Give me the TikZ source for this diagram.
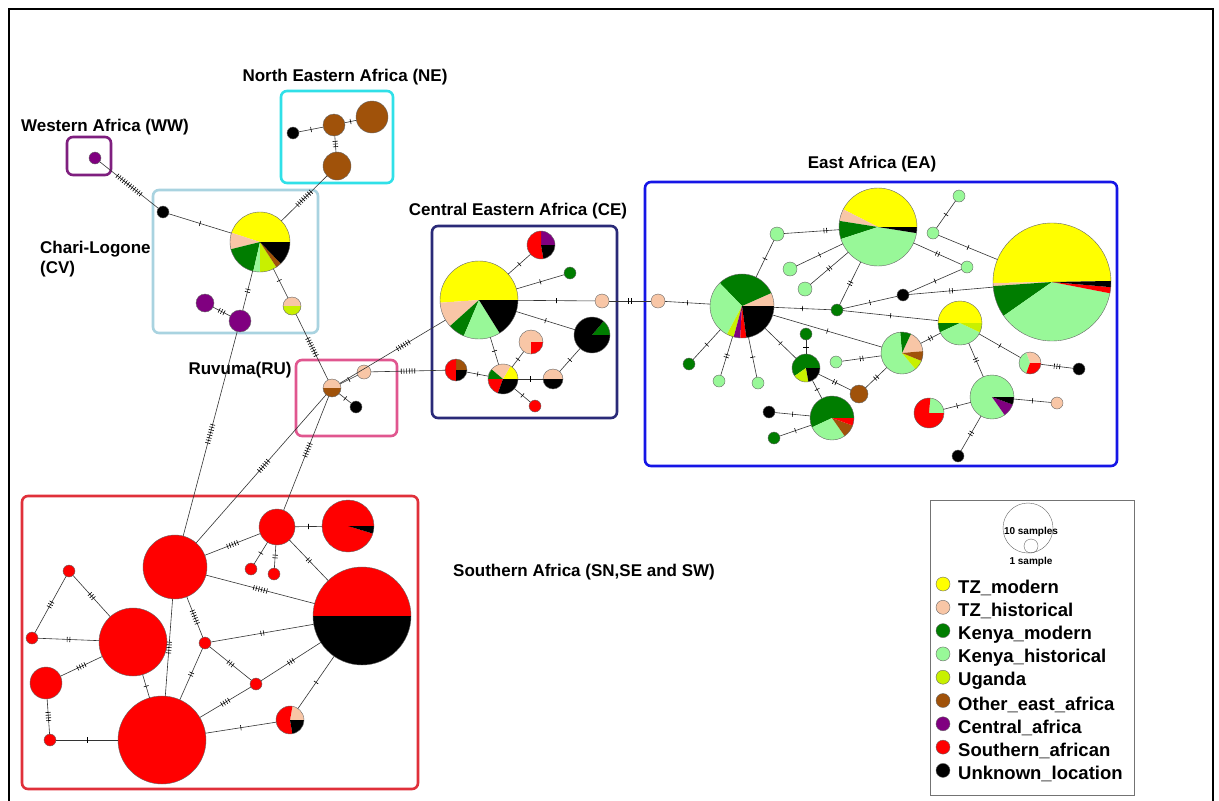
\documentclass[tikz,border=0pt]{standalone}
\usepackage{fontspec}
\setmainfont{Liberation Sans}
\definecolor{cY}{HTML}{FFFF00}
\definecolor{cTH}{HTML}{F8C6A6}
\definecolor{cKM}{HTML}{007D00}
\definecolor{cKH}{HTML}{98F898}
\definecolor{cUG}{HTML}{C8F000}
\definecolor{cOE}{HTML}{A0520A}
\definecolor{cCA}{HTML}{800080}
\definecolor{cSA}{HTML}{FF0000}
\definecolor{cUN}{HTML}{000000}
\definecolor{bWW}{HTML}{7F1F7F}
\definecolor{bNE}{HTML}{30E0E8}
\definecolor{bCV}{HTML}{A9D3E0}
\definecolor{bRU}{HTML}{E0568F}
\definecolor{bCE}{HTML}{2A2A78}
\definecolor{bEA}{HTML}{1515E6}
\definecolor{bSA}{HTML}{E0303A}
\tikzset{
 hapn/.style={circle, inner sep=0pt, outer sep=0pt},
 edge/.style={draw=black!80, line width=0.6pt},
 tk/.style={sloped, inner sep=0pt, outer sep=0pt, anchor=center},
 outl/.style={draw=black!60, line width=0.4pt},
 grp/.style={rounded corners=6pt, line width=2.6pt},
 ttl/.style={font=\bfseries\fontsize{17}{20}\selectfont, inner sep=0pt},
 leg/.style={font=\bfseries\fontsize{18.5}{21}\selectfont, anchor=west, inner sep=0pt},
 legc/.style={circle, inner sep=0pt, outer sep=0pt, minimum size=14pt, draw=black!60, line width=0.4pt},
}
\newcommand{\hp}[4]{%
  \node[hapn, minimum size=2*#3pt] (#1) at (#2) {};
  \foreach \pA/\pB/\pC in {#4}{%
    \fill[\pC] (#1.center) -- ++(\pA:#3pt) arc[start angle=\pA, end angle=\pB, radius=#3pt] -- cycle;}
  \draw[outl] (#1.center) circle[radius=#3pt];}
\newcommand{\mm}[1]{\rule[-2.6pt]{0.6pt}{5.2pt}\ifnum#1>1\relax\foreach\i in {2,...,#1}{\hspace{2.1pt}\rule[-2.6pt]{0.6pt}{5.2pt}}\fi}
\newcommand{\ed}[4][0.5]{\draw[edge] (#2) -- node[tk,pos=#1]{\mm{#4}} (#3);}
\begin{document}
\begin{tikzpicture}[x=1pt,y=-1pt]
\useasboundingbox (0,0) rectangle (1219,801);
\fill[white] (0,0) rectangle (1219,801);
\draw[line width=1.6pt] (9,801) -- (9,9) -- (1213,9) -- (1213,801);

% group boxes
\draw[grp, draw=bWW] (67,137) rectangle (111,175);
\draw[grp, draw=bNE] (281,91) rectangle (393,183);
\draw[grp, draw=bCV] (153,190) rectangle (318,333);
\draw[grp, draw=bRU] (296,360) rectangle (397,436);
\draw[grp, draw=bCE] (432,226) rectangle (617,418);
\draw[grp, draw=bEA] (645,182) rectangle (1117,466);
\draw[grp, draw=bSA] (22,496) rectangle (418,789);

% titles
\node[ttl] (tNE) at (345,77) {North Eastern Africa (NE)};
\node[ttl] (tWW) at (105,127) {Western Africa (WW)};
\node[ttl, align=left, anchor=west] (tCV) at (40,259) {Chari-Logone\\(CV)};
\node[ttl] (tCE) at (518,211) {Central Eastern Africa (CE)};
\node[ttl] (tEA) at (872,164) {East Africa (EA)};
\node[ttl] (tRU) at (240,370) {Ruvuma(RU)};
\node[ttl] (tSA) at (584,572) {Southern Africa (SN,SE and SW)};

% ---- haplotypes ----
% WW
\hp{w1}{95,158}{6}{0/360/cCA}
% NE
\hp{ne1}{293,133}{6}{0/360/cUN}
\hp{ne2}{334,125}{11}{0/360/cOE}
\hp{ne3}{372,117}{16}{0/360/cOE}
\hp{ne4}{337,166}{14}{0/360/cOE}
% CV
\hp{cv0}{163,212}{6}{0/360/cUN}
\hp{cv1}{260,242}{30}{0/162/cY,162/194/cTH,194/257/cKM,257/270/cKH,270/303/cUG,303/314/cOE,314/360/cUN}
\hp{cv2}{205,303}{9}{0/360/cCA}
\hp{cv3}{240,321}{11}{0/360/cCA}
\hp{cv4}{292,306}{9}{0/180/cTH,180/360/cUG}
% RU
\hp{ru1}{332,388}{9}{0/180/cTH,180/360/cOE}
\hp{ru2}{356,407}{6}{0/360/cUN}
\hp{ru3}{364,372}{7}{0/360/cTH}
% CE
\hp{ce1}{479,300}{39}{0/184/cY,184/222/cTH,222/247/cKM,247/302/cKH,302/360/cUN}
\hp{ce2}{541,245}{14}{0/90/cCA,90/280/cSA,280/360/cUN}
\hp{ce3}{570,273}{6}{0/360/cKM}
\hp{ce4}{602,301}{7}{0/360/cTH}
\hp{ce5}{592,335}{18}{0/50/cKM,50/360/cUN}
\hp{ce6}{531,342}{12}{0/270/cTH,270/360/cSA}
\hp{ce7}{456,370}{11}{0/90/cOE,90/270/cSA,270/360/cUN}
\hp{ce8}{503,379}{15}{0/60/cY,60/140/cTH,140/180/cKM,180/250/cSA,250/360/cUN}
\hp{ce9}{553,379}{10}{0/180/cTH,180/360/cUN}
\hp{ce10}{535,406}{6}{0/360/cSA}
% EA
\hp{ea0}{658,301}{7}{0/360/cTH}
\hp{ea1}{742,306}{32}{0/24/cTH,24/134/cKM,134/242/cKH,242/255/cUG,255/267/cCA,267/278/cSA,278/360/cUN}
\hp{ea2}{777,234}{7}{0/360/cKH}
\hp{ea3}{878,227}{39}{0/153/cY,153/171/cTH,171/198/cKM,198/351/cKH,351/360/cUN}
\hp{ea4}{790,269}{7}{0/360/cKH}
\hp{ea5}{805,289}{7}{0/360/cKH}
\hp{ea6}{837,310}{6}{0/360/cKM}
\hp{ea7}{903,295}{6}{0/360/cUN}
\hp{ea8}{933,233}{6}{0/360/cKH}
\hp{ea9}{959,196}{6}{0/360/cKH}
\hp{ea10}{967,267}{6}{0/360/cKH}
\hp{ea11}{1052,282}{59}{1/181/cY,181/184/cTH,184/215/cKM,215/349/cKH,349/355/cSA,355/361/cUN}
\hp{ea12}{960,323}{22}{0/180/cY,180/205/cKM,205/335/cKH,335/360/cUG}
\hp{ea13}{902,353}{21}{5/65/cTH,65/95/cKM,95/310/cKH,310/338/cUG,338/365/cOE}
\hp{ea14}{836,362}{6}{0/360/cKH}
\hp{ea15}{859,394}{9}{0/360/cOE}
\hp{ea16}{806,368}{14}{0/215/cKM,215/280/cUG,280/360/cUN}
\hp{ea17}{806,334}{6}{0/360/cKM}
\hp{ea18}{832,418}{22}{0/205/cKM,205/305/cKH,305/340/cOE,340/360/cSA}
\hp{ea19}{769,412}{6}{0/360/cUN}
\hp{ea20}{774,438}{6}{0/360/cKM}
\hp{ea21}{689,364}{6}{0/360/cKM}
\hp{ea22}{719,381}{6}{0/360/cKH}
\hp{ea23}{758,383}{6}{0/360/cKH}
\hp{ea24}{992,397}{22}{0/305/cKH,305/340/cCA,340/360/cUN}
\hp{ea25}{1057,403}{6}{0/360/cTH}
\hp{ea26}{958,456}{6}{0/360/cUN}
\hp{ea27}{929,413}{15}{0/85/cKH,85/360/cSA}
\hp{ea28}{1030,363}{11}{0/110/cTH,110/250/cKH,250/360/cSA}
\hp{ea29}{1079,369}{6}{0/360/cUN}
% SA
\hp{s1}{175,567}{32}{0/360/cSA}
\hp{s2}{277,527}{18}{0/360/cSA}
\hp{s3}{348,526}{26}{0/343/cSA,343/360/cUN}
\hp{s4}{362,616}{49}{0/180/cSA,180/360/cUN}
\hp{s5}{251,569}{6}{0/360/cSA}
\hp{s6}{274,574}{6}{0/360/cSA}
\hp{s7}{133,642}{34}{0/360/cSA}
\hp{s8}{69,571}{6}{0/360/cSA}
\hp{s9}{32,638}{6}{0/360/cSA}
\hp{s10}{46,683}{16}{0/360/cSA}
\hp{s11}{50,740}{6}{0/360/cSA}
\hp{s12}{162,740}{44}{0/360/cSA}
\hp{s13}{205,643}{6}{0/360/cSA}
\hp{s14}{256,684}{6}{0/360/cSA}
\hp{s15}{290,720}{14}{0/80/cTH,80/280/cSA,280/360/cUN}

% ---- connectors ----
\ed{w1}{cv0}{12}
\ed{cv0}{cv1}{1}
\ed{ne4}{cv1}{8}
\ed{ne1}{ne2}{1}
\ed{ne2}{ne3}{1}
\ed{ne2}{ne4}{3}
\ed{cv1}{cv3}{2}
\ed{cv2}{cv3}{3}
\ed[0.4]{cv1}{cv4}{1}
\ed{cv4}{ru1}{8}
\ed{cv3}{s1}{8}
\ed{ru1}{ru2}{1}
\ed{ru1}{ru3}{1}
\ed[0.48]{ru1}{s1}{6}
\ed[0.47]{ru1}{s2}{6}
\ed[0.6]{ru1}{ce1}{6}
\ed{ru3}{ce7}{6}
\ed{ce1}{ce2}{1}
\ed{ce1}{ce3}{1}
\ed{ce1}{ce4}{1}
\ed{ce4}{ea0}{2}
\ed{ce1}{ce5}{1}
\ed{ce8}{ce1}{1}
\ed{ce8}{ce6}{1}
\ed{ce8}{ce7}{1}
\ed{ce8}{ce9}{1}
\ed{ce8}{ce10}{1}
\ed{ce9}{ce5}{1}
\ed{ea0}{ea1}{1}
\ed{ea1}{ea2}{1}
\ed[0.75]{ea2}{ea3}{2}
\ed{ea3}{ea4}{1}
\ed{ea3}{ea5}{2}
\ed{ea3}{ea6}{2}
\ed{ea1}{ea6}{1}
\ed{ea6}{ea7}{1}
\ed{ea6}{ea12}{1}
\ed{ea3}{ea10}{2}
\ed{ea7}{ea10}{1}
\ed{ea7}{ea11}{2}
\ed{ea8}{ea9}{1}
\ed{ea8}{ea11}{1}
\ed{ea1}{ea13}{1}
\ed{ea13}{ea12}{2}
\ed{ea13}{ea14}{2}
\ed{ea13}{ea15}{2}
\ed{ea1}{ea16}{1}
\ed{ea16}{ea17}{1}
\ed{ea16}{ea15}{2}
\ed{ea16}{ea18}{1}
\ed{ea18}{ea19}{1}
\ed{ea18}{ea20}{1}
\ed{ea1}{ea21}{1}
\ed{ea1}{ea22}{2}
\ed{ea1}{ea23}{1}
\ed{ea12}{ea24}{2}
\ed{ea24}{ea25}{1}
\ed{ea24}{ea26}{2}
\ed{ea24}{ea27}{1}
\ed{ea12}{ea28}{1}
\ed{ea28}{ea29}{3}
\ed{s1}{s2}{5}
\ed{s2}{s3}{1}
\ed{s2}{s5}{1}
\ed{s2}{s6}{2}
\ed{s2}{s4}{2}
\ed{s1}{s4}{6}
\ed{s1}{s12}{5}
\ed{s1}{s13}{6}
\ed{s13}{s4}{2}
\ed{s13}{s12}{2}
\ed{s13}{s14}{3}
\ed{s14}{s4}{3}
\ed{s14}{s12}{4}
\ed{s12}{s15}{1}
\ed{s15}{s4}{1}
\ed{s12}{s7}{1}
\ed{s12}{s11}{1}
\ed{s11}{s10}{4}
\ed{s10}{s7}{4}
\ed{s7}{s9}{2}
\ed{s9}{s8}{3}
\ed{s8}{s7}{3}

% ---- legend ----
\draw[draw=black!55, line width=0.8pt] (930,500) rectangle (1134,795);
\node[hapn, minimum size=50pt, draw=black!60, line width=0.4pt] (lbig) at (1028,528) {};
\node[hapn, minimum size=14pt, draw=black!60, line width=0.4pt] (lsmall) at (1031,546) {};
\node[font=\bfseries\fontsize{10}{12}\selectfont, inner sep=0pt] (l10) at (1031,532) {10 samples};
\node[font=\bfseries\fontsize{10}{12}\selectfont, inner sep=0pt] (l1) at (1031,562) {1 sample};
\foreach \lab/\col [count=\k from 0] in {TZ\_modern/cY, TZ\_historical/cTH, Kenya\_modern/cKM, Kenya\_historical/cKH, Uganda/cUG, Other\_east\_africa/cOE, Central\_africa/cCA, Southern\_african/cSA, Unknown\_location/cUN}{
  \node[legc, fill=\col] (lc\k) at (943,{584+23.3*\k}) {};
  \node[leg] (lt\k) at (958,{588+23.3*\k}) {\lab};
}
\end{tikzpicture}
\end{document}
